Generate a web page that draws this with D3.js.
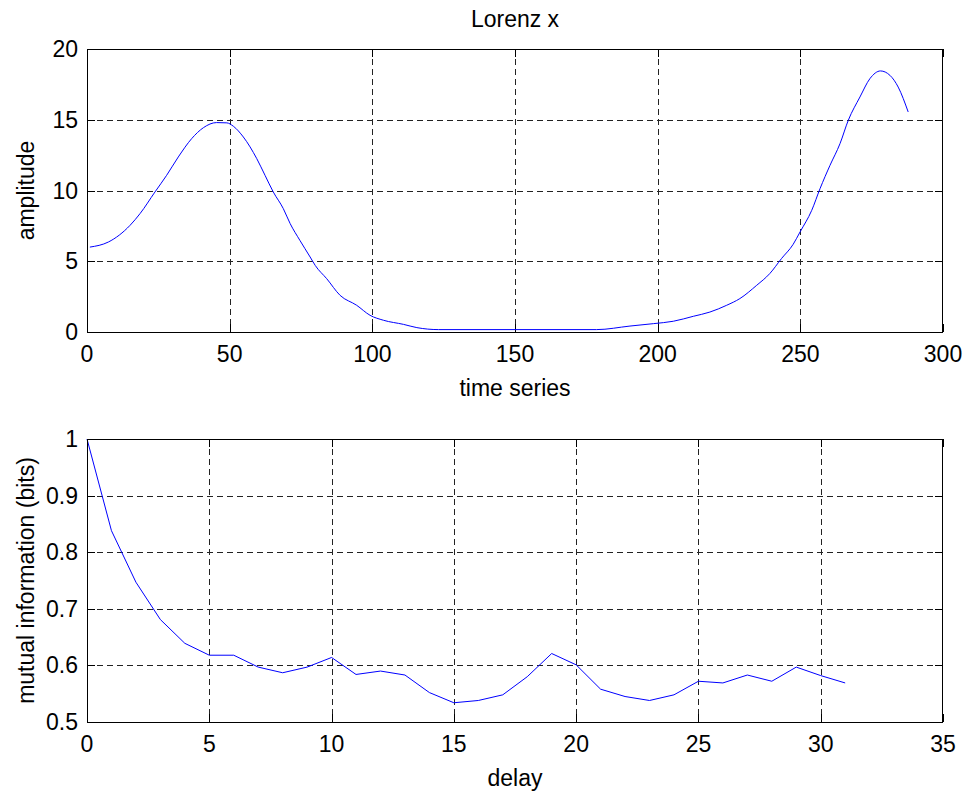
<!DOCTYPE html>
<html>
<head>
<meta charset="utf-8">
<script src="https://cdn.jsdelivr.net/npm/d3@7"></script>
<style>
	body { margin: 0; background: #fff; }
	text { font-family: "Liberation Sans", Arial, sans-serif; fill: #000; }
</style>
</head>
<body>
<svg id="chart" width="968" height="796"></svg>
<script>
'use strict'

// top panel: Lorenz x
const timeSteps = [1, 7.5, 15.1, 18.6, 23.8, 27.9, 32, 36.7, 40.8, 45.4, 49, 51.3, 54.8, 59.5, 62.4, 65.3, 68.8, 71.2, 74.6, 78.2, 80, 84, 88.7, 94.5, 99.2, 103.9, 110.9, 115.6, 123.2, 178.6, 190.3, 198.5, 205.5, 212.5, 218.3, 224.2, 228.8, 234.7, 239.3, 243.4, 247.5, 249.9, 254, 256.9, 260.4, 263.9, 266.8, 270.9, 274.4, 278.1, 281.4, 284.3, 287.8]
const amplitude = [6.0, 6.36, 7.54, 8.37, 9.89, 11.07, 12.37, 13.67, 14.44, 14.8, 14.78, 14.54, 13.78, 12.25, 11.07, 9.89, 8.72, 7.66, 6.48, 5.3, 4.7, 3.77, 2.59, 1.89, 1.18, 0.83, 0.54, 0.31, 0.17, 0.17, 0.42, 0.59, 0.76, 1.11, 1.41, 1.89, 2.36, 3.3, 4.13, 5.19, 6.2, 7.07, 8.6, 10.13, 11.78, 13.31, 14.96, 16.61, 17.91, 18.45, 18.14, 17.31, 15.55]

// bottom panel: mutual information per delay 0..31
const mutualInfo = [1.0, 0.838, 0.747, 0.681, 0.639, 0.618, 0.618, 0.597, 0.587, 0.597, 0.614, 0.584, 0.59, 0.583, 0.552, 0.534, 0.538, 0.548, 0.58, 0.621, 0.601, 0.558, 0.545, 0.538, 0.548, 0.572, 0.569, 0.583, 0.572, 0.597, 0.582, 0.569]

const topXTicks = [0, 50, 100, 150, 200, 250, 300]
const topYTicks = [0, 5, 10, 15, 20]
const botXTicks = [0, 5, 10, 15, 20, 25, 30, 35]
const botYTicks = [0.5, 0.6, 0.7, 0.8, 0.9, 1]

const svg = d3.select('#chart')

function panel(opts) {
	const x = d3.scaleLinear().domain(opts.xDomain).range([87, 943])
	const y = d3.scaleLinear().domain(opts.yDomain).range([opts.bottom, opts.top])
	const g = svg.append('g')

	// dashed grid
	g.selectAll('.gx').data(opts.xTicks.slice(1, -1)).enter()
		.append('line')
		.attr('x1', d => Math.round(x(d)) + 0.5).attr('x2', d => Math.round(x(d)) + 0.5)
		.attr('y1', opts.top).attr('y2', opts.bottom)
		.attr('stroke', '#222').attr('stroke-dasharray', '6,4')
	g.selectAll('.gy').data(opts.yTicks.slice(1, -1)).enter()
		.append('line')
		.attr('y1', d => Math.round(y(d)) + 0.5).attr('y2', d => Math.round(y(d)) + 0.5)
		.attr('x1', 87).attr('x2', 943)
		.attr('stroke', '#222').attr('stroke-dasharray', '6,4')

	// tick marks inside, on all four sides
	const tl = 8
	opts.xTicks.forEach(d => {
		const px = Math.round(x(d)) + 0.5
		g.append('line').attr('x1', px).attr('x2', px).attr('y1', opts.bottom).attr('y2', opts.bottom - tl).attr('stroke', '#000')
		g.append('line').attr('x1', px).attr('x2', px).attr('y1', opts.top).attr('y2', opts.top + tl).attr('stroke', '#000')
	})
	opts.yTicks.forEach(d => {
		const py = Math.round(y(d)) + 0.5
		g.append('line').attr('y1', py).attr('y2', py).attr('x1', 87).attr('x2', 87 + tl).attr('stroke', '#000')
		g.append('line').attr('y1', py).attr('y2', py).attr('x1', 943).attr('x2', 943 - tl).attr('stroke', '#000')
	})

	// data line
	g.append('path')
		.datum(opts.xs.map((d, i) => [d, opts.ys[i]]))
		.attr('fill', 'none')
		.attr('stroke', '#0000ff')
		.attr('stroke-width', 1)
		.attr('d', d3.line().curve(opts.curve).x(d => x(d[0])).y(d => y(d[1])))

	// box
	g.append('rect')
		.attr('x', 87.5).attr('y', opts.top + 0.5)
		.attr('width', 855).attr('height', opts.bottom - opts.top)
		.attr('fill', 'none').attr('stroke', '#000')

	// tick labels
	g.selectAll('.xl').data(opts.xTicks).enter()
		.append('text')
		.attr('x', d => x(d)).attr('y', opts.bottom + 22)
		.attr('dy', '0.35em')
		.attr('text-anchor', 'middle')
		.style('font-size', '23px')
		.text(d => d)
	g.selectAll('.yl').data(opts.yTicks).enter()
		.append('text')
		.attr('x', 78).attr('y', d => y(d))
		.attr('dy', '0.35em')
		.attr('text-anchor', 'end')
		.style('font-size', '23px')
		.text(d => d)

	// axis titles
	g.append('text')
		.attr('x', 515).attr('y', opts.bottom + 64)
		.attr('text-anchor', 'middle')
		.style('font-size', '23px')
		.text(opts.xLabel)
	g.append('text')
		.attr('transform', 'translate(34,' + ((opts.top + opts.bottom) / 2) + ') rotate(-90)')
		.attr('text-anchor', 'middle')
		.style('font-size', '23px')
		.text(opts.yLabel)
}

panel({
	top: 49, bottom: 332,
	xDomain: [0, 300], yDomain: [0, 20],
	xTicks: topXTicks, yTicks: topYTicks,
	xs: timeSteps, ys: amplitude,
	curve: d3.curveMonotoneX,
	xLabel: 'time series', yLabel: 'amplitude'
})

panel({
	top: 439, bottom: 722,
	xDomain: [0, 35], yDomain: [0.5, 1],
	xTicks: botXTicks, yTicks: botYTicks,
	xs: mutualInfo.map((d, i) => i), ys: mutualInfo,
	curve: d3.curveLinear,
	xLabel: 'delay', yLabel: 'mutual information (bits)'
})

svg.append('text')
	.attr('x', 515).attr('y', 27)
	.attr('text-anchor', 'middle')
	.style('font-size', '23px')
	.text('Lorenz x')
</script>
</body>
</html>
